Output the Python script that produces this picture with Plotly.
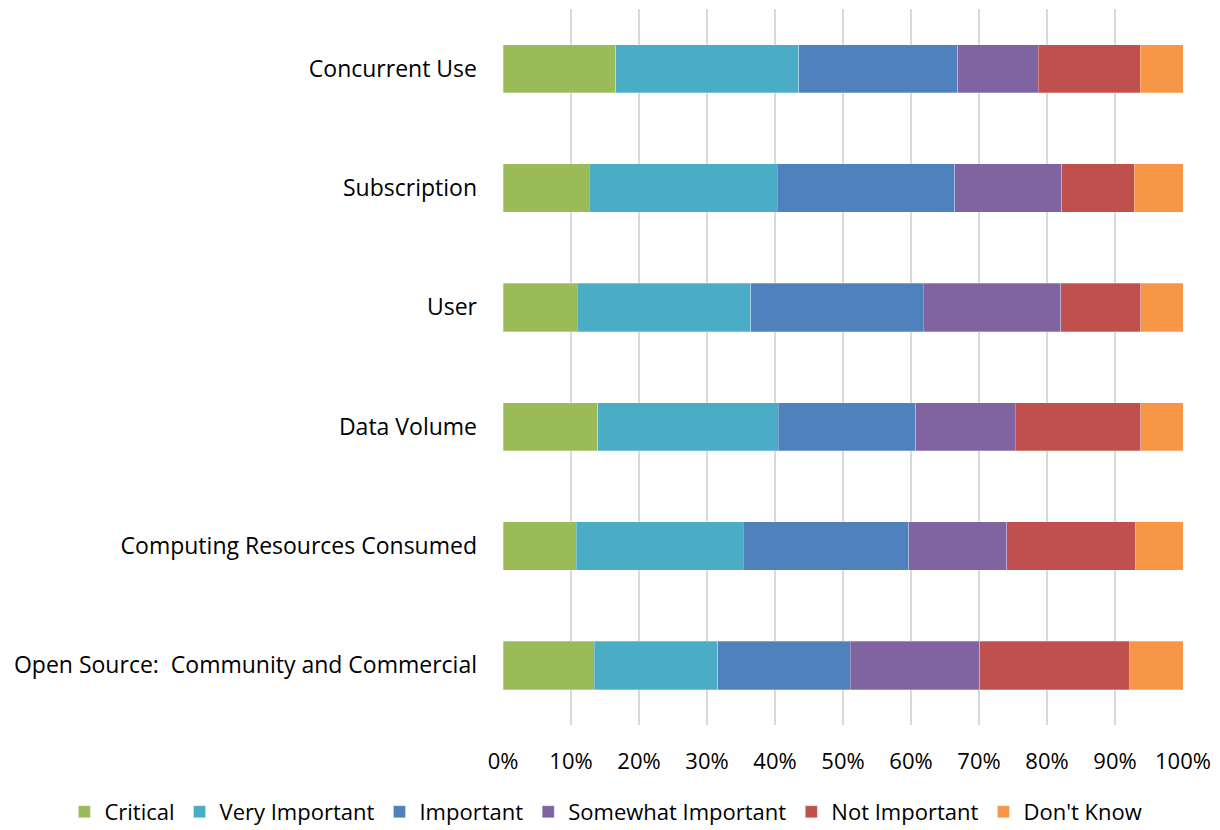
import plotly.graph_objects as go

categories = [
    "Concurrent Use",
    "Subscription",
    "User",
    "Data Volume",
    "Computing Resources Consumed",
    "Open Source:  Community and Commercial",
]

critical = [16.6, 12.7, 10.9, 13.9, 10.8, 13.4]
very_important = [26.9, 27.6, 25.5, 26.6, 24.5, 18.2]
important = [23.4, 26.1, 25.4, 20.2, 24.4, 19.5]
somewhat_important = [11.8, 15.8, 20.2, 14.6, 14.4, 19.0]
not_important = [15.0, 10.6, 11.8, 18.5, 18.9, 22.1]
dont_know = [6.3, 7.2, 6.2, 6.2, 7.0, 7.8]

series = [
    ("Critical", critical, "#9BBB59"),
    ("Very Important", very_important, "#4BACC6"),
    ("Important", important, "#4F81BD"),
    ("Somewhat Important", somewhat_important, "#8064A2"),
    ("Not Important", not_important, "#C0504D"),
    ("Don't Know", dont_know, "#F79646"),
]

fig = go.Figure()
for name, vals, color in series:
    fig.add_trace(go.Bar(
        name=name,
        y=categories,
        x=vals,
        orientation="h",
        marker=dict(color=color, line=dict(color="rgba(255,255,255,0.35)", width=0.8)),
    ))

font_family = "Open Sans, Liberation Sans, sans-serif"

fig.update_layout(
    barmode="stack",
    barnorm="percent",
    bargap=0.595,
    width=1220,
    height=830,
    margin=dict(l=503, r=37, t=9, b=105, autoexpand=False),
    plot_bgcolor="white",
    paper_bgcolor="white",
    font=dict(family=font_family, size=22, color="#000000"),
    showlegend=True,
    legend=dict(
        orientation="h",
        traceorder="normal",
        x=-0.645,
        xanchor="left",
        y=-0.092,
        yanchor="top",
        font=dict(size=22),
        itemwidth=30,
    ),
    xaxis=dict(
        range=[0, 100],
        tickvals=[0, 10, 20, 30, 40, 50, 60, 70, 80, 90, 100],
        ticktext=["0%", "10%", "20%", "30%", "40%", "50%", "60%", "70%", "80%", "90%", "100%"],
        showgrid=True,
        gridcolor="#D9D9D9",
        gridwidth=2,
        zeroline=False,
        showline=False,
        ticklabelstandoff=21,
        tickfont=dict(size=22),
    ),
    yaxis=dict(
        categoryorder="array",
        categoryarray=categories[::-1],
        showgrid=False,
        showline=False,
        zeroline=False,
        ticklabelstandoff=25,
        tickfont=dict(size=23),
    ),
)

fig.write_html("out.html")
